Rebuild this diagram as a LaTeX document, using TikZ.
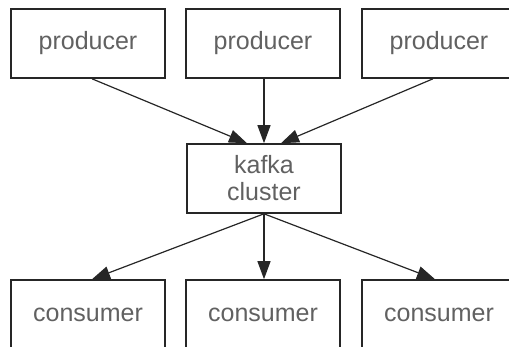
\documentclass[tikz,border=0pt]{standalone}
\usepackage{fontspec}
\setmainfont{Liberation Sans}
\usetikzlibrary{arrows.meta}
\begin{document}
\begin{tikzpicture}[x=1pt,y=-1pt,
  box/.style={draw=black!85, line width=1.6pt, minimum width=154pt, minimum height=69pt,
    text=black!62, font=\fontsize{25}{27}\selectfont, inner sep=0pt, align=center},
  conn/.style={draw=black!85, line width=1.2pt, -{Triangle[length=18pt,width=13pt]}}]
\useasboundingbox (0,0) rectangle (509,346);
\node[box] (p1) at (88,43.5) {producer};
\node[box] (p2) at (263,43.5) {producer};
\node[box] (p3) at (439,43.5) {producer};
\node[box] (k) at (264,178.5) {kafka\\cluster};
\node[box] (c1) at (88,314.5) {consumer};
\node[box] (c2) at (263,314.5) {consumer};
\node[box] (c3) at (439,314.5) {consumer};
\draw[conn] ([xshift=4pt]p1.south) -- ([xshift=-17pt]k.north);
\draw[conn] ([xshift=1pt]p2.south) -- (k.north);
\draw[conn] ([xshift=-6pt]p3.south) -- ([xshift=17pt]k.north);
\draw[conn] (k.south) -- ([xshift=4pt]c1.north);
\draw[conn] (k.south) -- ([xshift=1pt]c2.north);
\draw[conn] (k.south) -- ([xshift=-4pt]c3.north);
\end{tikzpicture}
\end{document}
